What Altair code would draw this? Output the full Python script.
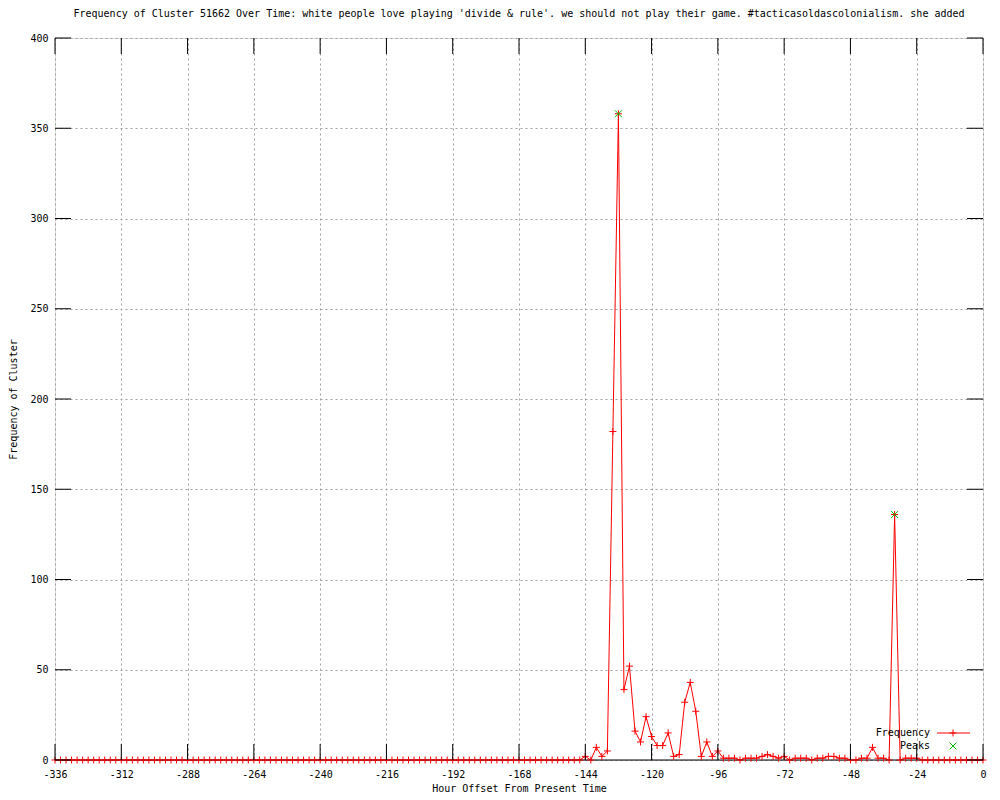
import altair as alt
import pandas as pd

TITLE = "Frequency of Cluster 51662 Over Time: white people love playing 'divide & rule'. we should not play their game. #tacticasoldascolonialism. she added"
X_TITLE = "Hour Offset From Present Time"
Y_TITLE = "Frequency of Cluster"

# sample hours (every 2 hours from -336 to 0)
hours = list(range(-336, 1, 2))

# frequency values
freq = [
    # -336 .. -146 (96 values)
    0, 0, 0, 0, 0, 0, 0, 0, 0, 0, 0, 0, 0, 0, 0, 0,
    0, 0, 0, 0, 0, 0, 0, 0, 0, 0, 0, 0, 0, 0, 0, 0,
    0, 0, 0, 0, 0, 0, 0, 0, 0, 0, 0, 0, 0, 0, 0, 0,
    0, 0, 0, 0, 0, 0, 0, 0, 0, 0, 0, 0, 0, 0, 0, 0,
    0, 0, 0, 0, 0, 0, 0, 0, 0, 0, 0, 0, 0, 0, 0, 0,
    0, 0, 0, 0, 0, 0, 0, 0, 0, 0, 0, 0, 0, 0, 0, 0,
    # -144 .. -24
    2, 0, 7, 2, 5, 182, 358, 39, 52, 16,
    10, 24, 13, 8, 8, 15, 2, 3, 32, 43,
    27, 2, 10, 2, 5, 1, 1, 1, 0, 1,
    1, 1, 2, 3, 2, 1, 2, 0, 1, 1,
    1, 0, 1, 1, 2, 2, 1, 1, 0, 0,
    1, 1, 7, 1, 1, 0, 136, 0, 1, 1,
    1,
    # -22 .. 0
    0, 0, 0, 0, 0, 0, 0, 0, 0, 0, 0, 0,
]

peak_hours = [-132, -32]
peak_values = [358, 136]

x_ticks = [-336, -312, -288, -264, -240, -216, -192, -168, -144, -120, -96, -72, -48, -24, 0]
y_ticks = [0, 50, 100, 150, 200, 250, 300, 350, 400]

legend_labels = ["Frequency", "Peaks"]

FONT = "DejaVu Sans Mono"
RED = "#ff0000"
GREEN = "#00c000"
PLUS = "M-1,0L1,0M0,-1L0,1"
CROSS = "M-1,-1L1,1M-1,1L1,-1"
W, H = 928, 722
TICK = 16

df = pd.DataFrame({"hour": hours, "freq": freq})
peaks = pd.DataFrame({"hour": peak_hours, "freq": peak_values})
xt = pd.DataFrame({"hour": x_ticks})
yt = pd.DataFrame({"freq": y_ticks})

xscale = alt.Scale(domain=[-336, 0], nice=False, zero=False)
yscale = alt.Scale(domain=[0, 400], nice=False, zero=False)

xaxis = alt.Axis(
    values=x_ticks, labelExpr="'' + datum.value", title=X_TITLE,
    tickSize=0, domain=False, labelPadding=9, labelFont=FONT, labelFontSize=10,
    labelColor="black", titleFont=FONT, titleFontSize=10, titleFontWeight="normal",
    titleColor="black", titleX=W / 2, titleY=28, titleBaseline="middle",
    grid=True, gridColor="#a0a0a0", gridDash=[2, 3], gridWidth=1, labelFlush=False,
)
yaxis = alt.Axis(
    values=y_ticks, labelExpr="'' + datum.value", title=Y_TITLE,
    tickSize=0, domain=False, labelPadding=7, labelFont=FONT, labelFontSize=10,
    labelColor="black", titleFont=FONT, titleFontSize=10, titleFontWeight="normal",
    titleColor="black", titleX=-42, titleY=H / 2, titleAngle=-90,
    titleBaseline="middle", titleAlign="center",
    grid=True, gridColor="#a0a0a0", gridDash=[2, 3], gridWidth=1, labelFlush=False,
)

line = alt.Chart(df).mark_line(color=RED, strokeWidth=1).encode(
    x=alt.X("hour:Q", scale=xscale, axis=xaxis),
    y=alt.Y("freq:Q", scale=yscale, axis=yaxis),
)

baseline = alt.Chart(pd.DataFrame({"freq": [0]})).mark_rule(color="black", strokeWidth=1).encode(
    y=alt.Y("freq:Q", scale=yscale)
)

markers = alt.Chart(df).mark_point(
    shape=PLUS, size=49, filled=False, color=RED, strokeWidth=1, opacity=1
).encode(x=alt.X("hour:Q", scale=xscale), y=alt.Y("freq:Q", scale=yscale))

peak_pts = alt.Chart(peaks).mark_point(
    shape=CROSS, size=49, filled=False, color=GREEN, strokeWidth=1, opacity=1
).encode(x=alt.X("hour:Q", scale=xscale), y=alt.Y("freq:Q", scale=yscale))

tick_bottom = alt.Chart(xt).mark_rule(color="black", strokeWidth=1).encode(
    x=alt.X("hour:Q", scale=xscale), y=alt.value(H), y2=alt.value(H - TICK)
)
tick_top = alt.Chart(xt).mark_rule(color="black", strokeWidth=1).encode(
    x=alt.X("hour:Q", scale=xscale), y=alt.value(0), y2=alt.value(TICK)
)
tick_left = alt.Chart(yt).mark_rule(color="black", strokeWidth=1).encode(
    y=alt.Y("freq:Q", scale=yscale), x=alt.value(0), x2=alt.value(TICK)
)
tick_right = alt.Chart(yt).mark_rule(color="black", strokeWidth=1).encode(
    y=alt.Y("freq:Q", scale=yscale), x=alt.value(W), x2=alt.value(W - TICK)
)

leg1 = pd.DataFrame({"label": [legend_labels[0]]})
leg2 = pd.DataFrame({"label": [legend_labels[1]]})

leg_text1 = alt.Chart(leg1).mark_text(
    align="right", baseline="middle", font=FONT, fontSize=10, color="black"
).encode(text="label:N", x=alt.value(875), y=alt.value(695))
leg_text2 = alt.Chart(leg2).mark_text(
    align="right", baseline="middle", font=FONT, fontSize=10, color="black"
).encode(text="label:N", x=alt.value(875), y=alt.value(708))
leg_line = alt.Chart(leg1).mark_rule(color=RED, strokeWidth=1).encode(
    x=alt.value(882), x2=alt.value(915), y=alt.value(695)
)
leg_plus = alt.Chart(leg1).mark_point(
    shape=PLUS, size=49, filled=False, color=RED, strokeWidth=1, opacity=1
).encode(x=alt.value(898), y=alt.value(695))
leg_cross = alt.Chart(leg2).mark_point(
    shape=CROSS, size=49, filled=False, color=GREEN, strokeWidth=1, opacity=1
).encode(x=alt.value(898), y=alt.value(708))

chart = alt.layer(
    line, baseline, markers, peak_pts,
    tick_bottom, tick_top, tick_left, tick_right,
    leg_text1, leg_text2, leg_line, leg_plus, leg_cross,
).properties(
    width=W, height=H,
    title=alt.TitleParams(
        TITLE, font=FONT, fontSize=10, fontWeight="normal", color="black",
        anchor="middle", offset=14,
    ),
    autosize=alt.AutoSizeParams(type="none"),
    padding={"left": 47, "top": 30, "right": 9, "bottom": 32},
).configure_view(stroke="black", strokeWidth=1).configure(background="white")

chart.save("out.html", embed_options={"renderer": "svg", "actions": False})
